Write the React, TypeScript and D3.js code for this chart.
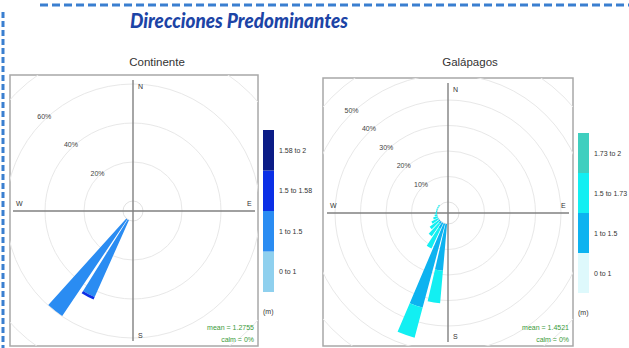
import React from "react";
import * as d3 from "d3";

// ---------- data ----------
const contBins = ["0 to 1", "1 to 1.5", "1.5 to 1.58", "1.58 to 2"];
const contColors = ["#8fd0ee", "#2a8cf2", "#0b2fe6", "#0b1c86"];
const contDirs = [208, 218];
const contValues = [
  [0, 43.2, 1.4, 0],
  [0, 59.8, 0, 0],
];
const contTicks = [20, 40, 60, 80];
const contTickLabels = ["20%", "40%", "60%"];

const galBins = ["0 to 1", "1 to 1.5", "1.5 to 1.73", "1.73 to 2"];
const galColors = ["#def9fc", "#0db3f0", "#12eff2", "#3fcfbf"];
const galDirs = [189, 199, 209, 219, 229, 239, 249, 259, 269, 279, 289, 299, 309];
const galValues = [
  [0, 18.4, 12.8, 0],
  [0, 34.1, 12.2, 0],
  [0, 2.5, 8.5, 0],
  [0, 1.0, 5.8, 0],
  [0, 0.4, 4.3, 0],
  [0, 0.2, 2.8, 0],
  [0, 0.1, 1.7, 0],
  [0, 0, 1.0, 0],
  [0, 0, 0.6, 0],
  [0, 0, 0.4, 0],
  [0, 0, 0.4, 0],
  [0, 0, 0.4, 0],
  [0, 0, 0.5, 0],
];
const galTicks = [10, 20, 30, 40, 50, 60];
const galTickLabels = ["10%", "20%", "30%", "40%", "50%"];

const titleText = "Direcciones Predominantes";
const panelTitles = ["Continente", "Galápagos"];
const contStats = ["mean = 1.2755", "calm = 0%"];
const galStats = ["mean = 1.4521", "calm = 0%"];

type PanelCfg = {
  id: string;
  title: string;
  titleX: number;
  box: [number, number, number, number];
  cx: number;
  cy: number;
  offset: number;
  pxPer10: number;
  ticks: number[];
  tickLabels: string[];
  dirs: number[];
  values: number[][];
  bins: string[];
  colors: string[];
  legendX: number;
  legendY0: number;
  legendY1: number;
  stats: string[];
  hLine: [number, number];
  vLine: [number, number];
};

const font = "'Liberation Sans', Arial, sans-serif";

function Panel({ c }: { c: PanelCfg }) {
  const [x0, y0, x1, y1] = c.box;
  const maxPct = c.ticks[c.ticks.length - 1];
  const r = d3
    .scaleLinear()
    .domain([0, maxPct])
    .range([c.offset, c.offset + (maxPct / 10) * c.pxPer10]);
  const halfW = 4 * (Math.PI / 180);
  const arc = d3.arc<any>();
  const petals: JSX.Element[] = [];
  c.dirs.forEach((dir, i) => {
    const a = (dir * Math.PI) / 180;
    let cum = 0;
    c.values[i].forEach((v, b) => {
      if (v <= 0) return;
      const d = arc({
        innerRadius: r(cum),
        outerRadius: r(cum + v),
        startAngle: a - halfW,
        endAngle: a + halfW,
      });
      cum += v;
      petals.push(<path key={`${i}-${b}`} d={d || ""} fill={c.colors[b]} />);
    });
  });
  const lblAng = (317 * Math.PI) / 180;
  const legScale = d3
    .scaleBand<number>()
    .domain(d3.range(c.bins.length).reverse())
    .range([c.legendY0, c.legendY1]);
  return (
    <g>
      <defs>
        <clipPath id={`clip-${c.id}`}>
          <rect x={x0} y={y0} width={x1 - x0} height={y1 - y0} />
        </clipPath>
      </defs>
      <text x={c.titleX} y={66} textAnchor="middle" fontFamily={font} fontSize={11.5} fill="#333">
        {c.title}
      </text>
      <rect x={x0} y={y0} width={x1 - x0} height={y1 - y0} fill="#fff" stroke="#a8a8a8" strokeWidth={1.5} />
      <g clipPath={`url(#clip-${c.id})`}>
        {c.ticks.map((t) => (
          <circle key={t} cx={c.cx} cy={c.cy} r={r(t)} fill="none" stroke="#e8e8e8" strokeWidth={1} />
        ))}
        <circle cx={c.cx} cy={c.cy} r={c.offset} fill="none" stroke="#e2e2e2" strokeWidth={1} />
      </g>
      <line x1={c.hLine[0]} x2={c.hLine[1]} y1={c.cy} y2={c.cy} stroke="#808080" strokeWidth={1.4} />
      <line x1={c.cx} x2={c.cx} y1={c.vLine[0]} y2={c.vLine[1]} stroke="#808080" strokeWidth={1.4} />
      {c.tickLabels.map((l, i) => {
        const rr = r(c.ticks[i]) + 3;
        return (
          <text
            key={l}
            x={c.cx + rr * Math.sin(lblAng)}
            y={c.cy - rr * Math.cos(lblAng) + 3}
            textAnchor="middle"
            fontFamily={font}
            fontSize={7}
            fill="#444"
          >
            {l}
          </text>
        );
      })}
      <g fontFamily={font} fontSize={7} fill="#333">
        <text x={c.cx + 5} y={c.vLine[0] + 9}>N</text>
        <text x={c.cx + 5} y={c.vLine[1] - 3}>S</text>
        <text x={c.hLine[0] + 3} y={c.cy - 5}>W</text>
        <text x={c.hLine[1] - 8} y={c.cy - 5}>E</text>
      </g>
      <g transform={`translate(${c.cx},${c.cy})`}>{petals}</g>
      <g fontFamily={font} fontSize={7} fill="#3a9a3a" textAnchor="end">
        <text x={x1 - 4} y={y1 - 16}>{c.stats[0]}</text>
        <text x={x1 - 4} y={y1 - 4}>{c.stats[1]}</text>
      </g>
      {c.bins.map((b, i) => (
        <g key={b}>
          <rect
            x={c.legendX}
            y={legScale(i)}
            width={11}
            height={legScale.bandwidth()}
            fill={c.colors[i]}
          />
          <text
            x={c.legendX + 16}
            y={(legScale(i) as number) + legScale.bandwidth() / 2 + 2.5}
            fontFamily={font}
            fontSize={7}
            fill="#333"
          >
            {b}
          </text>
        </g>
      ))}
      <text x={c.legendX} y={c.legendY1 + 22} fontFamily={font} fontSize={7} fill="#333">
        (m)
      </text>
    </g>
  );
}

const contCfg: PanelCfg = {
  id: "cont",
  title: panelTitles[0],
  titleX: 157,
  box: [10, 75, 258, 346],
  cx: 133,
  cy: 211,
  offset: 10,
  pxPer10: 19.5,
  ticks: contTicks,
  tickLabels: contTickLabels,
  dirs: contDirs,
  values: contValues,
  bins: contBins,
  colors: contColors,
  legendX: 263,
  legendY0: 130,
  legendY1: 292,
  stats: contStats,
  hLine: [13, 255],
  vLine: [80, 341],
};

const galCfg: PanelCfg = {
  id: "gal",
  title: panelTitles[1],
  titleX: 470,
  box: [323, 78, 573, 346],
  cx: 448,
  cy: 213,
  offset: 11,
  pxPer10: 25.5,
  ticks: galTicks,
  tickLabels: galTickLabels,
  dirs: galDirs,
  values: galValues,
  bins: galBins,
  colors: galColors,
  legendX: 578,
  legendY0: 133,
  legendY1: 293,
  stats: galStats,
  hLine: [327, 569],
  vLine: [83, 342],
};

export default function App() {
  return (
    <svg
      width={629}
      height={348}
      style={{ position: "absolute", left: 0, top: 0, background: "#fff" }}
    >
      <rect width={629} height={348} fill="#fff" />
      <line x1={40} x2={629} y1={5} y2={5} stroke="#3a7fd0" strokeWidth={3} strokeDasharray="8 4" />
      <line x1={3} x2={3} y1={12} y2={348} stroke="#3a7fd0" strokeWidth={3} strokeDasharray="6 3" />
      <text
        x={130}
        y={28}
        fontFamily="Lato, 'Open Sans', sans-serif"
        fontWeight="900"
        fontStyle="italic"
        fontSize={20}
        fill="#1c44a6"
        textLength={218}
        lengthAdjust="spacingAndGlyphs"
      >
        {titleText}
      </text>
      <Panel c={contCfg} />
      <Panel c={galCfg} />
    </svg>
  );
}
